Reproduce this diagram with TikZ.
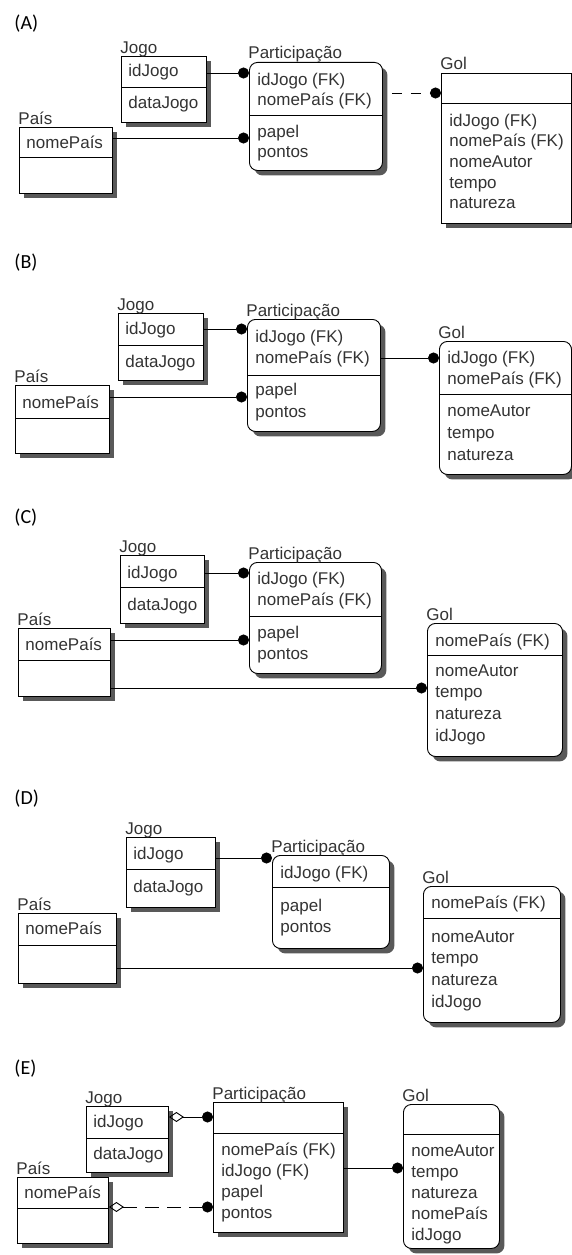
\documentclass[tikz,border=0pt]{standalone}
\usepackage{fontspec}
\setmainfont{Liberation Sans}
\newfontfamily\optfont{Carlito}
\usetikzlibrary{arrows.meta,shadows}

\begin{document}
\begin{tikzpicture}[x=1pt,y=-1pt,line width=0.9pt,
                    every node/.style={font=\fontsize{17}{20}\selectfont,text=black!80},
                    entity/.style={draw,fill=white,anchor=north west,inner sep=0pt,
                                   drop shadow={shadow xshift=5pt,shadow yshift=-5pt,fill=black!65,opacity=1}},
                    weakentity/.style={entity,rounded corners=8pt},
                    entname/.style={anchor=base west,inner sep=0pt,xshift=-1pt,yshift=3pt},
                    attr/.style={anchor=base west,inner sep=0pt},
                    panel/.style={anchor=west,inner sep=0pt,text=black,font=\optfont\fontsize{20}{24}\selectfont},
                    rel/.style={-{Circle[length=11pt]}},
                    optrel/.style={{Diamond[open,length=15pt,width=10pt]}-{Circle[length=11pt]}}]

  \useasboundingbox (0,0) rectangle (572,1255);

  % (A)
  \node[panel] (labA) at (14,24) {(A)};
  \node[entity,minimum width=85pt,minimum height=66pt] (jogoA) at (121,56) {};
  \node[entity,minimum width=93pt,minimum height=66pt] (paisA) at (19,127) {};
  \node[weakentity,minimum width=133pt,minimum height=108pt] (partA) at (249,62) {};
  \node[entity,minimum width=130pt,minimum height=150pt] (golA) at (441,73) {};
  \node[entname] (jogoAn) at (jogoA.north west) {Jogo};
  \node[entname] (paisAn) at (paisA.north west) {País};
  \node[entname] (partAn) at (partA.north west) {Participação};
  \node[entname] (golAn) at (golA.north west) {Gol};
  \draw (jogoA.west |- 0,87) -- (jogoA.east |- 0,87);
  \draw (paisA.west |- 0,157) -- (paisA.east |- 0,157);
  \draw (partA.west |- 0,115) -- (partA.east |- 0,115);
  \draw (golA.west |- 0,103) -- (golA.east |- 0,103);
  \node[attr] (jogoA1) at (128,77) {idJogo};
  \node[attr] (jogoA2) at (128,108) {dataJogo};
  \node[attr] (paisA1) at (26,148) {nomePaís};
  \foreach \t [count=\i] in {idJogo (FK),nomePaís (FK)}
    \node[attr] (partAk\i) at (257,{65+20*\i}) {\t};
  \foreach \t [count=\i] in {papel,pontos}
    \node[attr] (partAa\i) at (257,{117+20*\i}) {\t};
  \foreach \t [count=\i] in {idJogo (FK),nomePaís (FK),nomeAutor,tempo,natureza}
    \node[attr] (golAa\i) at (449,{105.3+20.7*\i}) {\t};
  \draw[rel] (jogoA.east |- 0,73) -- (partA.west |- 0,73);
  \draw[rel] (paisA.east |- 0,138) -- (partA.west |- 0,138);
  \draw[rel,dash pattern=on 10pt off 9pt,dash phase=10pt] (partA.east |- 0,93) -- (golA.west |- 0,93);

  % (B)
  \node[panel] (labB) at (14,263) {(B)};
  \node[entity,minimum width=85pt,minimum height=67pt] (jogoB) at (118,313) {};
  \node[entity,minimum width=94pt,minimum height=68pt] (paisB) at (15,385) {};
  \node[weakentity,minimum width=133pt,minimum height=112pt] (partB) at (247,319) {};
  \node[weakentity,minimum width=132pt,minimum height=133pt] (golB) at (439,341) {};
  \node[entname] (jogoBn) at (jogoB.north west) {Jogo};
  \node[entname] (paisBn) at (paisB.north west) {País};
  \node[entname] (partBn) at (partB.north west) {Participação};
  \node[entname] (golBn) at (golB.north west) {Gol};
  \draw (jogoB.west |- 0,345) -- (jogoB.east |- 0,345);
  \draw (paisB.west |- 0,418) -- (paisB.east |- 0,418);
  \draw (partB.west |- 0,375) -- (partB.east |- 0,375);
  \draw (golB.west |- 0,394) -- (golB.east |- 0,394);
  \node[attr] (jogoB1) at (125,334) {idJogo};
  \node[attr] (jogoB2) at (125,367) {dataJogo};
  \node[attr] (paisB1) at (22,408) {nomePaís};
  \foreach \t [count=\i] in {idJogo (FK),nomePaís (FK)}
    \node[attr] (partBk\i) at (255,{321+21*\i}) {\t};
  \foreach \t [count=\i] in {papel,pontos}
    \node[attr] (partBa\i) at (255,{373+22*\i}) {\t};
  \foreach \t [count=\i] in {idJogo (FK),nomePaís (FK)}
    \node[attr] (golBk\i) at (447,{342+21*\i}) {\t};
  \foreach \t [count=\i] in {nomeAutor,tempo,natureza}
    \node[attr] (golBa\i) at (447,{394+22*\i}) {\t};
  \draw[rel] (jogoB.east |- 0,329) -- (partB.west |- 0,329);
  \draw[rel] (paisB.east |- 0,397) -- (partB.west |- 0,397);
  \draw[rel] (partB.east |- 0,358) -- (golB.west |- 0,358);

  % (C)
  \node[panel] (labC) at (14,518) {(C)};
  \node[entity,minimum width=84pt,minimum height=68pt] (jogoC) at (120,555) {};
  \node[entity,minimum width=92pt,minimum height=68pt] (paisC) at (18,628) {};
  \node[weakentity,minimum width=132pt,minimum height=111pt] (partC) at (249,562) {};
  \node[weakentity,minimum width=135pt,minimum height=133pt] (golC) at (427,623) {};
  \node[entname] (jogoCn) at (jogoC.north west) {Jogo};
  \node[entname] (paisCn) at (paisC.north west) {País};
  \node[entname] (partCn) at (partC.north west) {Participação};
  \node[entname] (golCn) at (golC.north west) {Gol};
  \draw (jogoC.west |- 0,587) -- (jogoC.east |- 0,587);
  \draw (paisC.west |- 0,660) -- (paisC.east |- 0,660);
  \draw (partC.west |- 0,616) -- (partC.east |- 0,616);
  \draw (golC.west |- 0,655) -- (golC.east |- 0,655);
  \node[attr] (jogoC1) at (127,578) {idJogo};
  \node[attr] (jogoC2) at (127,610) {dataJogo};
  \node[attr] (paisC1) at (25,650) {nomePaís};
  \foreach \t [count=\i] in {idJogo (FK),nomePaís (FK)}
    \node[attr] (partCk\i) at (257,{563+21*\i}) {\t};
  \foreach \t [count=\i] in {papel,pontos}
    \node[attr] (partCa\i) at (257,{617+21*\i}) {\t};
  \node[attr] (golCk1) at (435,646) {nomePaís (FK)};
  \foreach \t [count=\i] in {nomeAutor,tempo,natureza,idJogo}
    \node[attr] (golCa\i) at (435,{654.3+21.7*\i}) {\t};
  \draw[rel] (jogoC.east |- 0,573) -- (partC.west |- 0,573);
  \draw[rel] (paisC.east |- 0,640) -- (partC.west |- 0,640);
  \draw[rel] (paisC.east |- 0,688) -- (golC.west |- 0,688);

  % (D)
  \node[panel] (labD) at (14,799) {(D)};
  \node[entity,minimum width=89pt,minimum height=70pt] (jogoD) at (126,837) {};
  \node[entity,minimum width=98pt,minimum height=70pt] (paisD) at (18,913) {};
  \node[weakentity,minimum width=117pt,minimum height=93pt] (partD) at (272,855) {};
  \node[weakentity,minimum width=137pt,minimum height=136pt] (golD) at (423,886) {};
  \node[entname] (jogoDn) at (jogoD.north west) {Jogo};
  \node[entname] (paisDn) at (paisD.north west) {País};
  \node[entname] (partDn) at (partD.north west) {Participação};
  \node[entname] (golDn) at (golD.north west) {Gol};
  \draw (jogoD.west |- 0,869) -- (jogoD.east |- 0,869);
  \draw (paisD.west |- 0,945) -- (paisD.east |- 0,945);
  \draw (partD.west |- 0,887) -- (partD.east |- 0,887);
  \draw (golD.west |- 0,918) -- (golD.east |- 0,918);
  \node[attr] (jogoD1) at (133,859) {idJogo};
  \node[attr] (jogoD2) at (133,892) {dataJogo};
  \node[attr] (paisD1) at (25,934) {nomePaís};
  \node[attr] (partDk1) at (280,878) {idJogo (FK)};
  \foreach \t [count=\i] in {papel,pontos}
    \node[attr] (partDa\i) at (280,{890+21*\i}) {\t};
  \node[attr] (golDk1) at (431,908) {nomePaís (FK)};
  \foreach \t [count=\i] in {nomeAutor,tempo,natureza,idJogo}
    \node[attr] (golDa\i) at (431,{920.3+21.7*\i}) {\t};
  \draw[rel] (jogoD.east |- 0,858) -- (partD.west |- 0,858);
  \draw[rel] (paisD.east |- 0,968) -- (golD.west |- 0,968);

  % (E)
  \node[panel] (labE) at (14,1069) {(E)};
  \node[entity,minimum width=82pt,minimum height=66pt] (jogoE) at (86,1106) {};
  \node[entity,minimum width=91pt,minimum height=66pt] (paisE) at (17,1177) {};
  \node[entity,minimum width=130pt,minimum height=130pt] (partE) at (213,1102) {};
  \node[weakentity,minimum width=96pt,minimum height=144pt] (golE) at (403,1104) {};
  \node[entname] (jogoEn) at (jogoE.north west) {Jogo};
  \node[entname] (paisEn) at (paisE.north west) {País};
  \node[entname] (partEn) at (partE.north west) {Participação};
  \node[entname] (golEn) at (golE.north west) {Gol};
  \draw (jogoE.west |- 0,1138) -- (jogoE.east |- 0,1138);
  \draw (paisE.west |- 0,1208) -- (paisE.east |- 0,1208);
  \draw (partE.west |- 0,1133) -- (partE.east |- 0,1133);
  \draw (golE.west |- 0,1134) -- (golE.east |- 0,1134);
  \node[attr] (jogoE1) at (93,1127) {idJogo};
  \node[attr] (jogoE2) at (93,1159) {dataJogo};
  \node[attr] (paisE1) at (24,1198) {nomePaís};
  \foreach \t [count=\i] in {nomePaís (FK),idJogo (FK),papel,pontos}
    \node[attr] (partEa\i) at (221,{1134+21*\i}) {\t};
  \foreach \t [count=\i] in {nomeAutor,tempo,natureza,nomePaís,idJogo}
    \node[attr] (golEa\i) at (411,{1136+20.8*\i}) {\t};
  \draw[optrel] (jogoE.east |- 0,1117) -- (partE.west |- 0,1117);
  \draw[optrel,dash pattern=on 14pt off 8pt] (paisE.east |- 0,1207) -- (partE.west |- 0,1207);
  \draw[rel] (partE.east |- 0,1168) -- (golE.west |- 0,1168);

\end{tikzpicture}
\end{document}
